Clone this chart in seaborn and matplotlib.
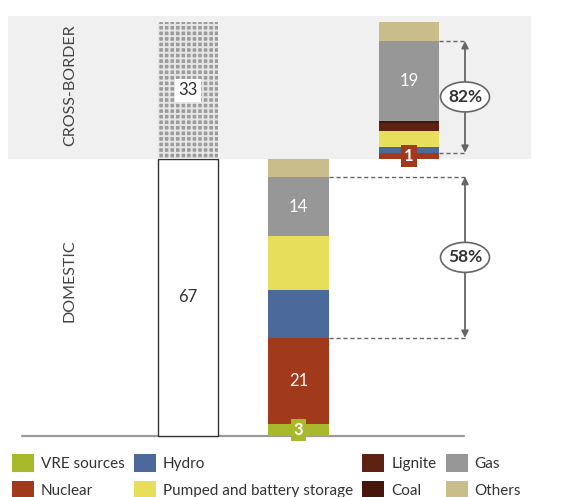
import numpy as np
import pandas as pd
import matplotlib
matplotlib.use("Agg")
import matplotlib.pyplot as plt
from matplotlib.patches import Ellipse, Patch, Rectangle
import seaborn as sns

# ---------------- data ----------------
columns = ["Total", "Domestic", "Cross-border"]
series = ["VRE sources", "Nuclear", "Hydro", "Pumped and battery storage",
          "Lignite", "Coal", "Gas", "Others"]
domestic = [2.9, 20.8, 11.5, 13.0, 0.0, 0.0, 14.4, 4.4]
cross_border = [0.0, 1.4, 1.3, 3.9, 1.9, 0.6, 19.3, 4.6]
total_domestic = 67
total_cross_border = 33
flexible = ["Hydro", "Pumped and battery storage", "Lignite", "Coal", "Gas"]
section_labels = ["CROSS-BORDER", "DOMESTIC"]

colors = {
    "VRE sources": "#a8b92b",
    "Nuclear": "#a03a1b",
    "Hydro": "#4b6a9b",
    "Pumped and battery storage": "#e7df5c",
    "Lignite": "#5e2213",
    "Coal": "#47170b",
    "Gas": "#979797",
    "Others": "#cabd8c",
}

# ---------------- figure ----------------
sns.set_theme(style="white")
plt.rcParams["font.family"] = ["Lato", "DejaVu Sans"]
plt.rcParams["hatch.linewidth"] = 1.4

W, H = 581, 497
fig = plt.figure(figsize=(W / 100, H / 100), dpi=100)
ax = fig.add_axes([0, 0, 1, 1])

PX_X = 110.5   # px per x unit
PX_Y = 4.14    # px per y unit
X0, Y0 = 188, 436


def xd(px):
    return (px - X0) / PX_X


def yd(py):
    return (Y0 - py) / PX_Y


# background band for cross-border section
ax.add_patch(Rectangle((xd(8), total_domestic), xd(531) - xd(8),
                       yd(16) - total_domestic, facecolor="#f0f0f0",
                       edgecolor="none", zorder=0))

BW = 0.55
# left total bar
sns.barplot(x=["Total"], y=[total_domestic], order=columns, color="white",
            saturation=1, width=BW, edgecolor="#333333", linewidth=1.0,
            errorbar=None, ax=ax, zorder=2)
sns.barplot(x=["Total"], y=[total_cross_border], order=columns,
            bottom=[total_domestic], color="#9c9c9c", saturation=1, width=BW,
            edgecolor="#e6e6e6", linewidth=0, hatch="+++", errorbar=None,
            ax=ax, zorder=2)

# stacked breakdown bars
bot_d, bot_c = 0.0, float(total_domestic)
tops = {}
for i, s in enumerate(series):
    df = pd.DataFrame({"column": ["Domestic", "Cross-border"],
                       "value": [domestic[i], cross_border[i]]})
    sns.barplot(data=df, x="column", y="value", order=columns,
                bottom=[bot_d, bot_c], color=colors[s], saturation=1,
                width=BW, linewidth=0, errorbar=None, ax=ax, zorder=2)
    bot_d += domestic[i]
    bot_c += cross_border[i]
    tops[s] = (bot_d, bot_c)

# ---------------- value labels ----------------
lab_fs = 12
ax.text(0, total_domestic + total_cross_border / 2, f"{total_cross_border}",
        ha="center", va="center", fontsize=lab_fs, color="#333333",
        bbox=dict(facecolor="white", edgecolor="none", pad=2.5), zorder=5)
ax.text(0, total_domestic / 2, f"{total_domestic}", ha="center", va="center",
        fontsize=lab_fs, color="#333333", zorder=5)

iv, inuc, igas = series.index("VRE sources"), series.index("Nuclear"), series.index("Gas")
# domestic labels
ax.text(1, domestic[iv] / 2, f"{round(domestic[iv])}", ha="center",
        va="center", fontsize=lab_fs, color="white", fontweight="bold",
        bbox=dict(facecolor=colors["VRE sources"], edgecolor="none", pad=2),
        zorder=5)
ax.text(1, domestic[iv] + domestic[inuc] / 2, f"{round(domestic[inuc])}",
        ha="center", va="center", fontsize=lab_fs, color="white", zorder=5)
gd = tops["Gas"][0] - domestic[igas] / 2
ax.text(1, gd, f"{round(domestic[igas])}", ha="center", va="center",
        fontsize=lab_fs, color="white", zorder=5)
# cross-border labels
ax.text(2, total_domestic + cross_border[inuc] / 2, f"{round(cross_border[inuc])}",
        ha="center", va="center", fontsize=lab_fs, color="white",
        fontweight="bold",
        bbox=dict(facecolor=colors["Nuclear"], edgecolor="none", pad=2),
        zorder=5)
gc = tops["Gas"][1] - cross_border[igas] / 2
ax.text(2, gc, f"{round(cross_border[igas])}", ha="center", va="center",
        fontsize=lab_fs, color="white", zorder=5)

# ---------------- share arrows ----------------
arrow_x = xd(465)
shares = [
    (1, tops["Nuclear"][0], tops["Gas"][0],
     sum(domestic[series.index(s)] for s in flexible) / total_domestic),
    (2, tops["Nuclear"][1], tops["Gas"][1],
     sum(cross_border[series.index(s)] for s in flexible) / total_cross_border),
]
for pos, lo, hi, frac in shares:
    for yy in (lo, hi):
        ax.plot([pos + BW / 2, arrow_x], [yy, yy], ls=(0, (3, 2)), lw=1.0,
                color="#666666", zorder=3)
    ax.annotate("", xy=(arrow_x, hi), xytext=(arrow_x, lo),
                arrowprops=dict(arrowstyle="<|-|>", color="#666666", lw=1.3,
                                mutation_scale=10, shrinkA=0, shrinkB=0),
                zorder=3)
    mid = (lo + hi) / 2
    ax.add_patch(Ellipse((arrow_x, mid), 49 / PX_X, 30 / PX_Y,
                         facecolor="white", edgecolor="#666666", lw=1.2,
                         zorder=4))
    ax.text(arrow_x, mid, f"{frac * 100:.0f}%", ha="center", va="center",
            fontsize=12.5, fontweight="bold", color="#333333", zorder=5)

# baseline
ax.plot([xd(22), xd(464)], [0, 0], color="#9a9a9a", lw=1.6, zorder=1)

# section labels
ax.text(xd(70), yd(85), section_labels[0], rotation=90, ha="center",
        va="center", fontsize=11.5, color="#444444")
ax.text(xd(70), yd(281), section_labels[1], rotation=90, ha="center",
        va="center", fontsize=11.5, color="#444444")

ax.set_xlim(xd(0), xd(W))
ax.set_ylim(yd(H), yd(0))
ax.axis("off")

# ---------------- legend ----------------
handles = [Patch(facecolor=colors[s], edgecolor="none") for s in series]
leg = fig.legend(handles, series, ncol=4, loc="upper left",
                 bbox_to_anchor=(12 / W, 1 - 454 / H), frameon=False,
                 fontsize=11, handlelength=1.45, handleheight=1.45,
                 handletextpad=0.45, columnspacing=0.6, labelspacing=0.55,
                 borderpad=0, borderaxespad=0)
for t in leg.get_texts():
    t.set_color("#333333")

fig.savefig("out.png", dpi=100)
